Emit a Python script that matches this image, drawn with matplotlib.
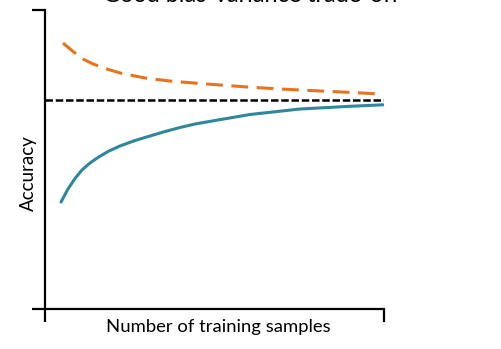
import matplotlib
matplotlib.use('Agg')
import matplotlib.pyplot as plt

# values (x: training samples, y: accuracy, both on a 0-100 scale)
train_x = [4.72, 6.78, 8.85, 10.91, 13.27, 15.63, 18.58, 22.12, 26.55, 30.97, 35.40,
           39.82, 44.25, 50.15, 60.47, 75.22, 89.97, 99.71]
train_acc = [35.79, 40.13, 43.65, 46.49, 48.83, 50.67, 52.68, 54.52, 56.35, 57.86, 59.36,
             60.70, 61.87, 63.04, 65.05, 66.89, 67.79, 68.29]
test_x = [5.31, 8.26, 11.21, 13.86, 16.81, 22.12, 29.50, 36.87, 45.72, 51.62, 60.47,
          67.85, 75.22, 82.60, 89.97, 98.82]
test_acc = [88.96, 86.12, 83.61, 82.11, 80.77, 78.93, 77.26, 76.25, 75.42, 74.92, 74.18,
            73.68, 73.24, 72.84, 72.44, 71.91]
desired_x = [0, 100]
desired_acc = [69.9, 69.9]

plt.rcParams['font.family'] = ['Lato', 'DejaVu Sans']

fig = plt.figure(figsize=(5.02, 3.49), dpi=100)
ax = fig.add_axes([45/502, 40/349, 339/502, 299/349])

ax.plot(desired_x, desired_acc, color='black', linestyle=(0, (3, 1.1)), linewidth=1.8)
ax.plot(test_x, test_acc, color='#E8731A', linestyle=(0, (5.5, 2.8)), linewidth=2.2)
ax.plot(train_x, train_acc, color='#2F879B', linewidth=2.2, solid_capstyle='round',
        solid_joinstyle='round')

ax.set_xlim(0, 100)
ax.set_ylim(0, 100)
ax.set_xticks([0, 100])
ax.set_yticks([0, 100])
ax.set_xticklabels([])
ax.set_yticklabels([])
ax.tick_params(direction='out', length=9.5, width=1.6, color='black')
for s in ['top', 'right']:
    ax.spines[s].set_visible(False)
for s in ['left', 'bottom']:
    ax.spines[s].set_linewidth(1.6)

ax.set_xlabel('Number of training samples', fontsize=13.3)
ax.xaxis.set_label_coords(0.51, -0.035)
ax.set_ylabel('Accuracy', fontsize=13.5)
ax.yaxis.set_label_coords(-0.023, 0.455)

# title sits mostly above the canvas, as in the original
fig.text(0.5, 1 - 1.5/349, 'Good bias-variance trade-off', ha='center', va='baseline', fontsize=16.8)

fig.savefig('out.png', dpi=100)
